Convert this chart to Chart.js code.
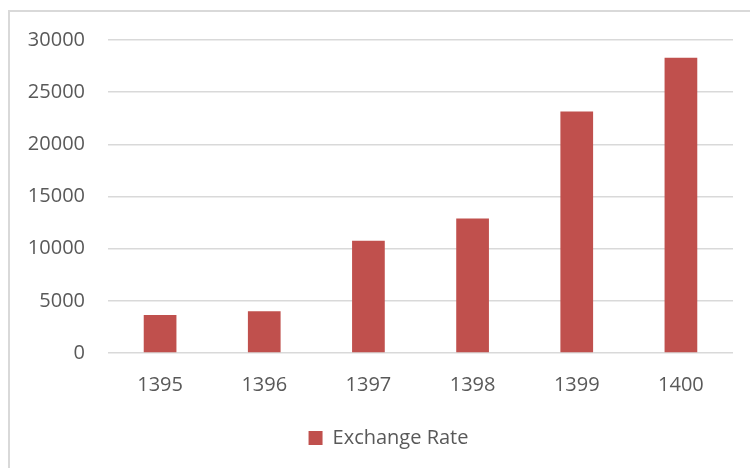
<!DOCTYPE html>
<html><head><meta charset="utf-8">
<script src="https://cdn.jsdelivr.net/npm/chart.js@4/dist/chart.umd.min.js"></script>
<style>
html,body{margin:0;padding:0;background:#fff;overflow:hidden;}
#wrap{position:relative;width:750px;height:468px;}
#frame{position:absolute;left:8px;top:10px;width:760px;height:480px;border-left:2px solid #d9d9d9;border-top:2px solid #d9d9d9;}
canvas{position:absolute;left:0;top:0;}
</style></head><body>
<div id="wrap"><div id="frame"></div><canvas id="c" width="750" height="468"></canvas></div>
<script>
const categories = ['1395', '1396', '1397', '1398', '1399', '1400'];
const exchangeRate = [3650, 4000, 10750, 12900, 23150, 28300];
const seriesName = 'Exchange Rate';
const yMin = 0, yMax = 30000, yStep = 5000;

const FONT = '"Open Sans", Lato, sans-serif';
const TEXT = '#595959';
const BAR = '#C0504D';
const GRID = '#d9d9d9';

// The original chart frame is wider than the visible crop, so its legend sits right of centre.
const legendShift = {
  id: 'legendShift',
  afterLayout(chart) {
    const l = chart.legend;
    if (l) { l.left += 22; l.right += 22; }
  }
};

new Chart(document.getElementById('c'), {
  type: 'bar',
  data: {
    labels: categories,
    datasets: [{
      label: seriesName,
      data: exchangeRate,
      backgroundColor: BAR,
      borderWidth: 0,
      categoryPercentage: 1,
      barPercentage: 0.314
    }]
  },
  plugins: [legendShift],
  options: {
    responsive: false,
    devicePixelRatio: 1,
    animation: false,
    events: [],
    layout: { padding: { top: 40, right: 17, bottom: 10, left: 0 } },
    plugins: {
      legend: {
        position: 'bottom',
        labels: {
          boxWidth: 14, boxHeight: 14, padding: 10,
          color: TEXT,
          font: { family: FONT, size: 20 }
        }
      },
      tooltip: { enabled: false }
    },
    scales: {
      x: {
        grid: { display: false },
        border: { display: false },
        ticks: { color: TEXT, padding: 12, font: { family: FONT, size: 20 } },
        afterFit: s => { s.height = 65; }
      },
      y: {
        min: yMin, max: yMax,
        grid: { color: GRID, lineWidth: 1.5, drawTicks: false },
        border: { display: false },
        ticks: {
          stepSize: yStep, color: TEXT, padding: 23,
          font: { family: FONT, size: 20 },
          callback: v => String(v)
        },
        afterFit: s => { s.width = 108; }
      }
    }
  }
});
</script>
</body></html>
